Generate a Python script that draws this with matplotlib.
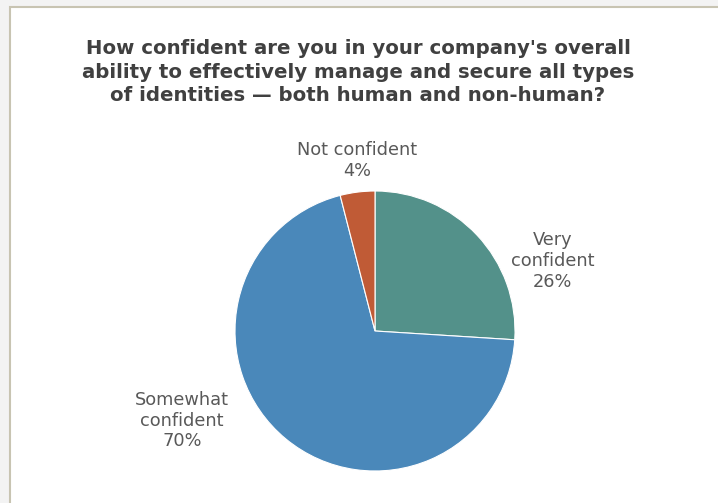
import matplotlib
matplotlib.use("Agg")
import matplotlib.pyplot as plt
from matplotlib.patches import Rectangle

# Survey answers, in clockwise order from 12 o'clock
categories = ["Very\nconfident", "Somewhat\nconfident", "Not confident"]
shares = [26, 70, 4]
colors = ["#53918A", "#4A88BA", "#C05B36"]

# where each category label sits, in pie-radius units
label_pos = [(1.27, 0.50), (-1.38, -0.64), (-0.13, 1.22)]

W, H = 718, 503
CX, CY, R = 375, 331, 140   # pie centre / radius in pixels (y from top)

plt.rcParams["font.family"] = ["DejaVu Sans"]

fig = plt.figure(figsize=(W / 100, H / 100), dpi=100, facecolor="#F3F3F3")

# white chart area; its frame only shows on the top and left
fig.patches.append(Rectangle((10 / W, -0.1), 1.2, 1.1 - 7 / H, transform=fig.transFigure,
                             facecolor="white", edgecolor="#C8C4B2", linewidth=1.5,
                             zorder=-5))

ax = fig.add_axes([0, 0, 1, 1])
ax.pie(shares, colors=colors, startangle=90, counterclock=False, radius=1.0,
       wedgeprops=dict(edgecolor="white", linewidth=0.8))
ax.set_aspect("auto")
ax.set_xlim(-CX / R, (W - CX) / R)
ax.set_ylim(-(H - CY) / R, CY / R)
ax.axis("off")
ax.patch.set_alpha(0)

for name, val, (lx, ly) in zip(categories, shares, label_pos):
    ax.text(lx, ly, f"{name}\n{val}%", ha="center", va="center", fontsize=12.8,
            color="#595959", linespacing=1.2)

fig.text(358 / W, 1 - 72 / H,
         "How confident are you in your company's overall\n"
         "ability to effectively manage and secure all types\n"
         "of identities \u2014 both human and non-human?",
         ha="center", va="center", fontsize=14.2, fontweight="bold",
         color="#404040", linespacing=1.3)

fig.savefig("out.png", dpi=100, facecolor=fig.get_facecolor())
